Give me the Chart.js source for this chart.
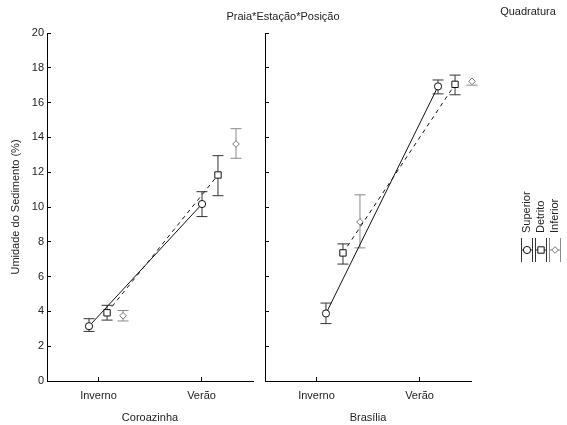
<!DOCTYPE html>
<html><head><meta charset="utf-8">
<script src="https://cdn.jsdelivr.net/npm/chart.js@4/dist/chart.umd.min.js"></script>
<style>
html,body{margin:0;padding:0;background:#fff;}
#wrap{position:relative;width:567px;height:425px;background:#fff;}
canvas{position:absolute;left:0;top:0;}
</style></head><body>
<div id="wrap"><canvas id="a" width="567" height="425"></canvas><canvas id="b" width="567" height="425"></canvas></div>
<script>
// ---- data ----
const categories = ['Inverno', 'Verão'];
const beaches = ['Coroazinha', 'Brasília'];
const seriesNames = ['Superior', 'Detrito', 'Inferior'];
const mainTitle = 'Praia*Estação*Posição';
const cornerLabel = 'Quadratura';
const yAxisTitle = 'Umidade do Sedimento (%)';

// means per series [Inverno, Verão]
const coroazinhaMean = [[3.15, 10.17], [3.92, 11.84], [3.75, 13.62]];
const coroazinhaLow  = [[2.85, 9.45],  [3.50, 10.65], [3.45, 12.80]];
const coroazinhaHigh = [[3.58, 10.88], [4.35, 12.95], [4.05, 14.50]];
const brasiliaMean   = [[3.88, 16.93], [7.36, 17.05], [9.14, 17.22]];
const brasiliaLow    = [[3.30, 16.50], [6.72, 16.45], [7.65, 17.00]];
const brasiliaHigh   = [[4.48, 17.30], [7.88, 17.58], [10.70, 17.42]];

// ---- positions / styles ----
const xJitter = {
  Coroazinha: [[-0.092, 0.005], [0.083, 0.16], [0.238, 0.335]],
  'Brasília': [[0.092, 0.18], [0.257, 0.345], [0.422, 0.51]]
};
const FONT = '"Liberation Sans", Arial, sans-serif';
const seriesStyle = [
  {color: '#111', bar: '#333', pointStyle: 'circle', radius: 3.6, dash: [], line: true},
  {color: '#111', bar: '#333', pointStyle: 'rect', radius: 4.5, dash: [4, 4], line: true},
  {color: '#777', bar: '#8a8a8a', pointStyle: 'rectRot', radius: 3.3, dash: [], line: false}
];

function buildDatasets(beach, mean, low, high) {
  const jit = xJitter[beach];
  const markers = seriesNames.map((name, s) => ({
    label: name,
    data: categories.map((c, j) => ({x: j + 0.5 + jit[s][j], y: mean[s][j]})),
    showLine: seriesStyle[s].line,
    borderColor: seriesStyle[s].color,
    borderWidth: 1,
    borderDash: seriesStyle[s].dash,
    pointStyle: seriesStyle[s].pointStyle,
    pointRadius: seriesStyle[s].radius,
    pointBackgroundColor: '#fff',
    pointBorderColor: seriesStyle[s].color,
    pointBorderWidth: 1,
    fill: false, tension: 0, clip: false
  }));
  const bars = seriesNames.map((name, s) => {
    const d = [];
    categories.forEach((c, j) => {
      const x = j + 0.5 + jit[s][j];
      d.push({x, y: low[s][j]}, {x, y: high[s][j]}, {x, y: null});
    });
    return {
      label: name + ' erro',
      data: d,
      showLine: true, spanGaps: false,
      borderColor: seriesStyle[s].bar,
      borderWidth: 1,
      pointStyle: 'line',
      pointRadius: 5.5,
      pointBorderColor: seriesStyle[s].bar,
      pointBorderWidth: 1,
      fill: false, clip: false
    };
  });
  return markers.concat(bars);
}

function xScale(beach) {
  return {
    type: 'linear', min: 0, max: 2,
    afterBuildTicks: sc => { sc.ticks = categories.map((c, i) => ({value: i + 0.5})); },
    afterFit: sc => { sc.height = 44; },
    ticks: {callback: (v, i) => categories[i], color: '#222', font: {family: FONT, size: 11}, padding: 12, maxRotation: 0, autoSkip: false},
    grid: {display: true, drawOnChartArea: false, tickLength: -4, color: '#000', lineWidth: 1},
    border: {display: true, color: '#000', width: 1},
    title: {display: true, text: beach, color: '#222', font: {family: FONT, size: 11}, padding: {top: 0, bottom: 0}}
  };
}

function yScale(showLabels) {
  return {
    type: 'linear', min: 0, max: 20,
    afterFit: sc => { sc.width = showLabels ? 47 : 0; },
    ticks: {display: showLabels, stepSize: 2, color: '#222', font: {family: FONT, size: 11}, padding: 7},
    grid: {display: true, drawOnChartArea: false, tickLength: -4, color: '#000', lineWidth: 1},
    border: {display: true, color: '#000', width: 1},
    title: {display: showLabels, text: yAxisTitle, color: '#222', font: {family: FONT, size: 11}, padding: {top: 9, bottom: 0}}
  };
}

const decorPlugin = {
  id: 'decor',
  afterDraw(chart) {
    const ctx = chart.ctx;
    ctx.save();
    ctx.fillStyle = '#222';
    ctx.font = '11px ' + FONT;
    ctx.textAlign = 'center';
    ctx.textBaseline = 'middle';
    ctx.fillText(mainTitle, 283, 17);
    ctx.fillText(cornerLabel, 528, 12);
    seriesNames.forEach((name, i) => {
      const x = 527 + 14 * i;
      const st = seriesStyle[i];
      ctx.save();
      ctx.translate(x, 233);
      ctx.rotate(-Math.PI / 2);
      ctx.textAlign = 'left';
      ctx.fillStyle = '#222';
      ctx.fillText(name, 0, 0);
      ctx.restore();
      ctx.strokeStyle = st.bar;
      ctx.lineWidth = 1;
      ctx.beginPath();
      ctx.moveTo(x - 5.5, 238); ctx.lineTo(x - 5.5, 262);
      ctx.moveTo(x + 5.5, 238); ctx.lineTo(x + 5.5, 262);
      ctx.moveTo(x - 5.5, 250); ctx.lineTo(x + 5.5, 250);
      ctx.stroke();
      ctx.fillStyle = '#fff';
      ctx.strokeStyle = st.color;
      Chart.helpers.drawPoint(ctx, {pointStyle: st.pointStyle, radius: st.radius, rotation: 0, borderWidth: 1}, x, 250);
    });
    ctx.restore();
  }
};

function makeChart(id, beachIdx, mean, low, high) {
  const beach = beaches[beachIdx];
  const first = beachIdx === 0;
  return new Chart(document.getElementById(id), {
    type: 'line',
    data: {datasets: buildDatasets(beach, mean, low, high)},
    options: {
      responsive: false, animation: false, devicePixelRatio: 1,
      layout: {padding: first ? {left: 0, right: 314, top: 33, bottom: 0} : {left: 265, right: 96, top: 33, bottom: 0}},
      plugins: {legend: {display: false}, tooltip: {enabled: false}, title: {display: false}},
      scales: {x: xScale(beach), y: yScale(first)}
    },
    plugins: first ? [] : [decorPlugin]
  });
}

makeChart('a', 0, coroazinhaMean, coroazinhaLow, coroazinhaHigh);
makeChart('b', 1, brasiliaMean, brasiliaLow, brasiliaHigh);
</script>
</body></html>
